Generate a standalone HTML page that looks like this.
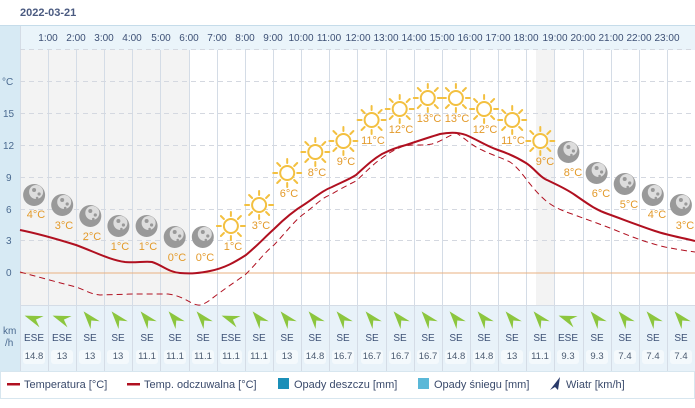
<!DOCTYPE html>
<html><head><meta charset="utf-8"><style>
body{margin:0;background:#fff;}
svg{display:block;font-family:"Liberation Sans",sans-serif;}
.h{font-size:10px;fill:#3d5075;text-anchor:middle}
.ax{font-size:10px;fill:#4a6a90}
.lb{font-size:11px;fill:#e39a2a;text-anchor:middle}
.wd{font-size:10px;fill:#3d5075;text-anchor:middle}
.ws{font-size:9.5px;fill:#4a5a70;text-anchor:middle}
.lg{font-size:11px;fill:#3a4a6b}
</style></head><body>
<svg width="695" height="408" viewBox="0 0 695 408">
<defs>
<g id="sun"><circle r="7" fill="#fff" stroke="#f3c040" stroke-width="2"/>
<g stroke="#f3c040" stroke-width="2" stroke-linecap="round">
<line x1="0" y1="-10" x2="0" y2="-14"/><line x1="0" y1="10" x2="0" y2="14"/><line x1="-10" y1="0" x2="-14" y2="0"/><line x1="10" y1="0" x2="14" y2="0"/>
<line x1="7" y1="7" x2="10" y2="10"/><line x1="-7" y1="-7" x2="-10" y2="-10"/><line x1="7" y1="-7" x2="10" y2="-10"/><line x1="-7" y1="7" x2="-10" y2="10"/></g></g>
<g id="moon"><circle r="11" fill="#999"/><circle cx="2" cy="-3" r="7" fill="#ddd"/><circle cx="0" cy="-5" r="2" fill="#999"/><circle cx="5" cy="-1" r="1.6" fill="#999"/><circle cx="3" cy="3" r="1.3" fill="#999"/></g>
<path id="aw" d="M-10,0 L8,-6 L2,0 L8,6 Z" fill="#8cc63e"/>
<g id="se"><use href="#aw" transform="rotate(50)"/></g>
<g id="ese"><use href="#aw" transform="rotate(20)"/></g>
<rect id="bx" x="-11" y="-9" width="22" height="14" rx="3" fill="#f4f9fc"/>
</defs>
<text x="20" y="16" font-size="11" font-weight="bold" fill="#4a5a80">2022-03-21</text>
<rect x="0" y="26" width="20" height="345" fill="#d7eaf4"/>
<rect x="20" y="26" width="675" height="24" fill="#eaf4fa"/>
<line x1="0" y1="25.5" x2="695" y2="25.5" stroke="#c5dcea"/>
<rect x="20" y="50" width="169" height="255" fill="#f3f3f3"/>
<rect x="536" y="50" width="19" height="255" fill="#f3f3f3"/>
<rect x="20" y="305" width="675" height="66" fill="#e8f2f9"/>
<g stroke="#d4dce6" stroke-width="1">
<line x1="48.5" y1="50" x2="48.5" y2="371"/><line x1="76.5" y1="50" x2="76.5" y2="371"/><line x1="104.5" y1="50" x2="104.5" y2="371"/><line x1="132.5" y1="50" x2="132.5" y2="371"/><line x1="160.5" y1="50" x2="160.5" y2="371"/><line x1="189.5" y1="50" x2="189.5" y2="371"/><line x1="217.5" y1="50" x2="217.5" y2="371"/><line x1="245.5" y1="50" x2="245.5" y2="371"/><line x1="273.5" y1="50" x2="273.5" y2="371"/><line x1="301.5" y1="50" x2="301.5" y2="371"/><line x1="329.5" y1="50" x2="329.5" y2="371"/><line x1="357.5" y1="50" x2="357.5" y2="371"/><line x1="386.5" y1="50" x2="386.5" y2="371"/><line x1="414.5" y1="50" x2="414.5" y2="371"/><line x1="442.5" y1="50" x2="442.5" y2="371"/><line x1="470.5" y1="50" x2="470.5" y2="371"/><line x1="498.5" y1="50" x2="498.5" y2="371"/><line x1="526.5" y1="50" x2="526.5" y2="371"/><line x1="554.5" y1="50" x2="554.5" y2="371"/><line x1="583.5" y1="50" x2="583.5" y2="371"/><line x1="611.5" y1="50" x2="611.5" y2="371"/><line x1="639.5" y1="50" x2="639.5" y2="371"/><line x1="667.5" y1="50" x2="667.5" y2="371"/>
<line x1="20" y1="305.5" x2="695" y2="305.5"/>
<line x1="20.5" y1="26" x2="20.5" y2="371"/>
</g>
<g stroke="#d4d8e0" stroke-dasharray="5,4">
<line x1="20" y1="49.5" x2="695" y2="49.5"/><line x1="20" y1="81.5" x2="695" y2="81.5"/><line x1="20" y1="113.5" x2="695" y2="113.5"/><line x1="20" y1="145.5" x2="695" y2="145.5"/><line x1="20" y1="177.5" x2="695" y2="177.5"/><line x1="20" y1="209.5" x2="695" y2="209.5"/><line x1="20" y1="240.5" x2="695" y2="240.5"/>
</g>
<line x1="20" y1="273" x2="695" y2="273" stroke="#e8b080" stroke-width="1"/>
<text class="ax" x="2" y="85">°C</text>
<text class="ax" x="3" y="117">15</text><text class="ax" x="3" y="149">12</text><text class="ax" x="6" y="181">9</text><text class="ax" x="6" y="213">6</text><text class="ax" x="6" y="244">3</text><text class="ax" x="6" y="276" fill="#c8b8a8">0</text>
<text class="ax" x="3" y="334">km</text><text class="ax" x="5" y="346">/h</text>
<g class="h">
<text x="48" y="41">1:00</text><text x="76" y="41">2:00</text><text x="104" y="41">3:00</text><text x="132" y="41">4:00</text><text x="161" y="41">5:00</text><text x="189" y="41">6:00</text><text x="217" y="41">7:00</text><text x="245" y="41">8:00</text><text x="273" y="41">9:00</text><text x="301" y="41">10:00</text><text x="329" y="41">11:00</text><text x="358" y="41">12:00</text><text x="386" y="41">13:00</text><text x="414" y="41">14:00</text><text x="442" y="41">15:00</text><text x="470" y="41">16:00</text><text x="498" y="41">17:00</text><text x="526" y="41">18:00</text><text x="555" y="41">19:00</text><text x="583" y="41">20:00</text><text x="611" y="41">21:00</text><text x="639" y="41">22:00</text><text x="667" y="41">23:00</text>
</g>
<path d="M20,272 C35,276 60,283 76,287 C85,290 90,294 100,295 L133,294 L168,294 C185,296 192,306 200,305 C208,303 212,298 218,294 C230,285 238,280 246,274 C258,262 265,252 274,245 C288,230 295,220 305,213 C318,203 322,198 330,195 C342,188 348,185 356,181 C366,172 372,165 382,158 C390,152 398,148 404,146 C414,144 422,146 432,144 C440,142 448,136 456,133 C465,138 472,146 482,150 C492,155 500,157 510,162 C522,170 528,185 545,200 C552,206 560,210 572,214 C588,220 600,224 615,230 C632,237 648,243 665,247 C680,250 688,251 695,252" fill="none" stroke="#b01020" stroke-width="1" stroke-dasharray="6,4"/>
<path d="M20,230 C40,234 60,240 76,245 C95,252 110,260 125,262 C135,263 145,261 152,262 C162,265 168,272 180,273 C192,274 200,273 210,271 C225,268 235,262 246,255 C258,245 264,238 274,229 C285,218 295,210 305,204 C318,195 324,190 332,187 C342,182 348,180 356,175 C366,166 372,160 382,154 C390,150 398,147 406,145 C418,141 430,137 440,134 C450,132 458,132 466,135 C478,140 486,146 498,150 C510,154 518,158 526,163 C534,168 538,175 545,179 C555,184 565,188 575,195 C588,204 596,210 608,214 C622,219 640,226 655,231 C670,236 684,238 695,241" fill="none" stroke="#b01020" stroke-width="2"/>
<use href="#moon" x="34.1" y="195"/><use href="#moon" x="62.2" y="205"/><use href="#moon" x="90.3" y="216"/><use href="#moon" x="118.4" y="226"/><use href="#moon" x="146.6" y="226"/><use href="#moon" x="174.7" y="237"/><use href="#moon" x="202.8" y="237"/>
<use href="#sun" x="230.9" y="226"/><use href="#sun" x="259.1" y="205"/><use href="#sun" x="287.2" y="173"/><use href="#sun" x="315.3" y="152"/><use href="#sun" x="343.4" y="141"/><use href="#sun" x="371.6" y="120"/><use href="#sun" x="399.7" y="109"/><use href="#sun" x="427.8" y="98"/><use href="#sun" x="455.9" y="98"/><use href="#sun" x="484.1" y="109"/><use href="#sun" x="512.2" y="120"/><use href="#sun" x="540.3" y="141"/>
<use href="#moon" x="568.4" y="152"/><use href="#moon" x="596.6" y="173"/><use href="#moon" x="624.7" y="184"/><use href="#moon" x="652.8" y="195"/><use href="#moon" x="680.9" y="205"/>
<g class="lb">
<text x="36" y="218">4°C</text><text x="64" y="229">3°C</text><text x="92" y="240">2°C</text><text x="120" y="250">1°C</text><text x="148" y="250">1°C</text><text x="177" y="261">0°C</text><text x="205" y="261">0°C</text><text x="233" y="250">1°C</text><text x="261" y="229">3°C</text><text x="289" y="197">6°C</text><text x="317" y="176">8°C</text><text x="346" y="165">9°C</text><text x="373" y="144">11°C</text><text x="401" y="133">12°C</text><text x="429" y="122">13°C</text><text x="457" y="122">13°C</text><text x="485" y="133">12°C</text><text x="513" y="144">11°C</text><text x="545" y="165">9°C</text><text x="573" y="176">8°C</text><text x="601" y="197">6°C</text><text x="629" y="208">5°C</text><text x="657" y="218">4°C</text><text x="685" y="229">3°C</text>
</g>
<use href="#ese" x="34" y="319"/><use href="#ese" x="62" y="319"/><use href="#se" x="90" y="319"/><use href="#se" x="118" y="319"/><use href="#se" x="147" y="319"/><use href="#se" x="175" y="319"/><use href="#se" x="203" y="319"/><use href="#ese" x="231" y="319"/><use href="#se" x="259" y="319"/><use href="#se" x="287" y="319"/><use href="#se" x="315" y="319"/><use href="#se" x="343" y="319"/><use href="#se" x="372" y="319"/><use href="#se" x="400" y="319"/><use href="#se" x="428" y="319"/><use href="#se" x="456" y="319"/><use href="#se" x="484" y="319"/><use href="#se" x="512" y="319"/><use href="#se" x="540" y="319"/><use href="#ese" x="568" y="319"/><use href="#se" x="597" y="319"/><use href="#se" x="625" y="319"/><use href="#se" x="653" y="319"/><use href="#se" x="681" y="319"/>
<g class="wd">
<text x="34" y="341">ESE</text><text x="62" y="341">ESE</text><text x="90" y="341">SE</text><text x="118" y="341">SE</text><text x="147" y="341">SE</text><text x="175" y="341">SE</text><text x="203" y="341">SE</text><text x="231" y="341">ESE</text><text x="259" y="341">SE</text><text x="287" y="341">SE</text><text x="315" y="341">SE</text><text x="343" y="341">SE</text><text x="372" y="341">SE</text><text x="400" y="341">SE</text><text x="428" y="341">SE</text><text x="456" y="341">SE</text><text x="484" y="341">SE</text><text x="512" y="341">SE</text><text x="540" y="341">SE</text><text x="568" y="341">ESE</text><text x="597" y="341">SE</text><text x="625" y="341">SE</text><text x="653" y="341">SE</text><text x="681" y="341">SE</text>
</g>
<use href="#bx" x="34" y="359"/><use href="#bx" x="62" y="359"/><use href="#bx" x="90" y="359"/><use href="#bx" x="118" y="359"/><use href="#bx" x="147" y="359"/><use href="#bx" x="175" y="359"/><use href="#bx" x="203" y="359"/><use href="#bx" x="231" y="359"/><use href="#bx" x="259" y="359"/><use href="#bx" x="287" y="359"/><use href="#bx" x="315" y="359"/><use href="#bx" x="343" y="359"/><use href="#bx" x="372" y="359"/><use href="#bx" x="400" y="359"/><use href="#bx" x="428" y="359"/><use href="#bx" x="456" y="359"/><use href="#bx" x="484" y="359"/><use href="#bx" x="512" y="359"/><use href="#bx" x="540" y="359"/><use href="#bx" x="568" y="359"/><use href="#bx" x="597" y="359"/><use href="#bx" x="625" y="359"/><use href="#bx" x="653" y="359"/><use href="#bx" x="681" y="359"/>
<g class="ws">
<text x="34" y="359">14.8</text><text x="62" y="359">13</text><text x="90" y="359">13</text><text x="118" y="359">13</text><text x="147" y="359">11.1</text><text x="175" y="359">11.1</text><text x="203" y="359">11.1</text><text x="231" y="359">11.1</text><text x="259" y="359">11.1</text><text x="287" y="359">13</text><text x="315" y="359">14.8</text><text x="343" y="359">16.7</text><text x="372" y="359">16.7</text><text x="400" y="359">16.7</text><text x="428" y="359">16.7</text><text x="456" y="359">14.8</text><text x="484" y="359">14.8</text><text x="512" y="359">13</text><text x="540" y="359">11.1</text><text x="568" y="359">9.3</text><text x="597" y="359">9.3</text><text x="625" y="359">7.4</text><text x="653" y="359">7.4</text><text x="681" y="359">7.4</text>
</g>
<rect x="0.5" y="371.5" width="694" height="27" fill="#fff" stroke="#d7e6ef"/>
<rect x="7" y="383" width="13" height="2.5" fill="#b01020"/>
<rect x="127" y="383" width="13" height="2.5" fill="#b01020"/>
<rect x="278" y="378" width="11" height="11" fill="#1a8fb8"/>
<rect x="418" y="378" width="11" height="11" fill="#5ab8d8"/>
<path d="M550,390 L560,377 L558,390 L555,387 Z" fill="#2a3a6a"/>
<g class="lg">
<text x="24" y="388">Temperatura [°C]</text>
<text x="144" y="388">Temp. odczuwalna [°C]</text>
<text x="294" y="388">Opady deszczu [mm]</text>
<text x="434" y="388">Opady śniegu [mm]</text>
<text x="566" y="388">Wiatr [km/h]</text>
</g>
</svg>
</body></html>
